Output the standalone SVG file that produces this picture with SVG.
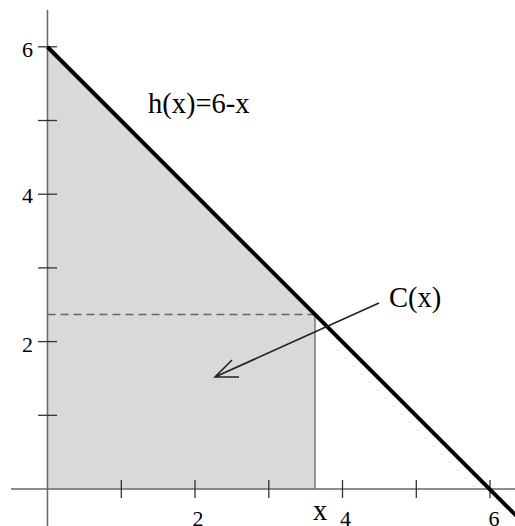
<svg xmlns="http://www.w3.org/2000/svg" width="515" height="526" viewBox="0 0 515 526">
<style>
.ax{stroke:#666;stroke-width:1.5;fill:none}
.tk{stroke:#333;stroke-width:1.3;fill:none}
.num{font-family:"Liberation Serif",serif;font-size:22px;fill:#000}
.lbl{font-family:"Liberation Serif",serif;font-size:28.5px;fill:#000}
</style>
<rect width="515" height="526" fill="#fff"/>
<g id="region">
<polygon points="47.5,47 315,314.5 315,489 47.5,489" fill="#d9d9d9"/>
</g>
<g id="connectors">
<line class="ax" x1="11" y1="489" x2="515" y2="489"/>
<line class="ax" x1="47.5" y1="10" x2="47.5" y2="526"/>
<g class="tk">
<line x1="121.3" y1="480" x2="121.3" y2="498"/>
<line x1="195" y1="480" x2="195" y2="498"/>
<line x1="268.8" y1="480" x2="268.8" y2="498"/>
<line x1="342.5" y1="480" x2="342.5" y2="498"/>
<line x1="416.3" y1="480" x2="416.3" y2="498"/>
<line x1="490" y1="480" x2="490" y2="498"/>
<line x1="38" y1="415.3" x2="57" y2="415.3"/>
<line x1="38" y1="341.6" x2="57" y2="341.6"/>
<line x1="38" y1="267.9" x2="57" y2="267.9"/>
<line x1="38" y1="194.2" x2="57" y2="194.2"/>
<line x1="38" y1="120.5" x2="57" y2="120.5"/>
<line x1="38" y1="46.8" x2="57" y2="46.8"/>
</g>
<line x1="47.5" y1="314.5" x2="315" y2="314.5" stroke="#666" stroke-width="1.5" stroke-dasharray="8,5"/>
<line x1="315" y1="314.5" x2="315" y2="489" stroke="#777" stroke-width="1.5"/>
<line x1="47.5" y1="47" x2="517" y2="516.5" stroke="#000" stroke-width="4"/>
<path d="M379,303 L215,377 M232,360 L215,377 L239,377" stroke="#222" stroke-width="1.6" fill="none"/>
</g>
<g id="labels">
<text class="num" x="33" y="57" text-anchor="end">6</text>
<text class="num" x="33" y="203" text-anchor="end">4</text>
<text class="num" x="33" y="352" text-anchor="end">2</text>
<text class="num" x="198" y="525.5" text-anchor="middle">2</text>
<text class="num" x="345.5" y="525.5" text-anchor="middle">4</text>
<text class="num" x="494" y="525.5" text-anchor="middle">6</text>
<text class="lbl" x="320" y="520" text-anchor="middle">x</text>
<text class="lbl" x="148" y="113">h(x)=6-x</text>
<text class="lbl" x="389" y="307">C(x)</text>
</g>
</svg>
